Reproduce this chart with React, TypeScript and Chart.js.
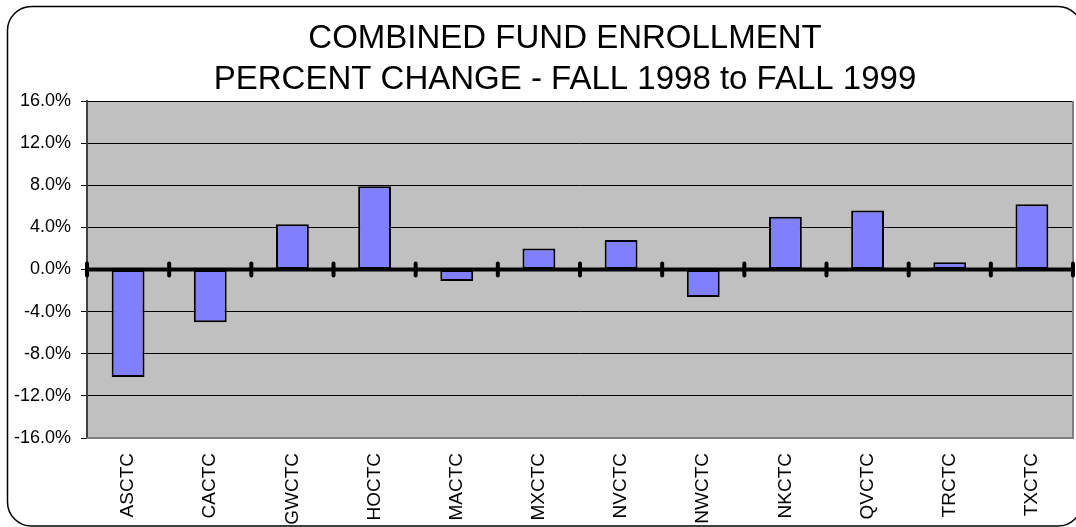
import React, { useEffect, useRef } from "react";
import { Chart, registerables } from "chart.js";

Chart.register(...registerables);

const categories = ["ASCTC", "CACTC", "GWCTC", "HOCTC", "MACTC", "MXCTC", "NVCTC", "NWCTC", "NKCTC", "QVCTC", "TRCTC", "TXCTC"];
const percentChange = [-10.2, -5.0, 4.3, 7.9, -1.1, 2.0, 2.8, -2.6, 5.0, 5.6, 0.7, 6.2];
const titleLines = ["COMBINED FUND ENROLLMENT", "PERCENT CHANGE - FALL 1998 to FALL 1999"];
const yMin = -16;
const yMax = 16;
const yStep = 4;

const FONT = '"Liberation Sans", Arial, sans-serif';

const decorPlugin = {
  id: "decor",
  beforeDraw(chart: any) {
    const { ctx, chartArea } = chart;
    ctx.save();
    ctx.fillStyle = "#ffffff";
    ctx.fillRect(0, 0, chart.width, chart.height);
    ctx.fillStyle = "#C0C0C0";
    ctx.fillRect(chartArea.left, chartArea.top, chartArea.right - chartArea.left, chartArea.bottom - chartArea.top);
    ctx.restore();
  },
  beforeDatasetsDraw(chart: any) {
    const { ctx, chartArea } = chart;
    ctx.save();
    ctx.strokeStyle = "#808080";
    ctx.lineWidth = 2;
    ctx.beginPath();
    ctx.moveTo(chartArea.right, chartArea.top);
    ctx.lineTo(chartArea.right, chartArea.bottom);
    ctx.lineTo(chartArea.left, chartArea.bottom);
    ctx.stroke();
    ctx.restore();
  },
  afterDatasetsDraw(chart: any) {
    const { ctx, chartArea, scales } = chart;
    const x = scales.x;
    const y = scales.y;
    const y0 = y.getPixelForValue(0);
    ctx.save();
    ctx.strokeStyle = "#000000";
    ctx.lineWidth = 4;
    ctx.beginPath();
    ctx.moveTo(chartArea.left, y0);
    ctx.lineTo(chartArea.right, y0);
    ctx.stroke();
    const n = categories.length;
    const bounds: number[] = [chartArea.left];
    for (let i = 1; i < n; i++) {
      bounds.push((x.getPixelForValue(i - 1) + x.getPixelForValue(i)) / 2);
    }
    bounds.push(chartArea.right);
    ctx.lineWidth = 4;
    ctx.lineCap = "round";
    for (const bx of bounds) {
      ctx.beginPath();
      ctx.moveTo(bx, y0 - 6);
      ctx.lineTo(bx, y0 + 6);
      ctx.stroke();
    }
    ctx.restore();
  },
  afterDraw(chart: any) {
    const { ctx } = chart;
    ctx.save();
    ctx.fillStyle = "#000000";
    ctx.font = `33px ${FONT}`;
    ctx.textAlign = "center";
    ctx.textBaseline = "alphabetic";
    ctx.fillText(titleLines[0], 565, 48);
    ctx.fillText(titleLines[1], 565, 89);
    // outer rounded border
    ctx.strokeStyle = "#000000";
    ctx.lineWidth = 1.5;
    const l = 7.5, t = 6.5, r = 1082, b = 526, rad = 24;
    ctx.beginPath();
    ctx.moveTo(l + rad, t);
    ctx.lineTo(r - rad, t);
    ctx.arcTo(r, t, r, t + rad, rad);
    ctx.lineTo(r, b - rad);
    ctx.arcTo(r, b, r - rad, b, rad);
    ctx.lineTo(l + rad, b);
    ctx.arcTo(l, b, l, b - rad, rad);
    ctx.lineTo(l, t + rad);
    ctx.arcTo(l, t, l + rad, t, rad);
    ctx.stroke();
    ctx.restore();
  },
};

export default function App() {
  const canvasRef = useRef<HTMLCanvasElement | null>(null);

  useEffect(() => {
    if (!canvasRef.current) return;
    const chart = new Chart(canvasRef.current, {
      type: "bar",
      data: {
        labels: categories,
        datasets: [
          {
            data: percentChange,
            backgroundColor: "#8080FF",
            borderColor: "#000000",
            borderWidth: 2,
            borderSkipped: false,
            barPercentage: 0.4,
            categoryPercentage: 1.0,
          },
        ],
      },
      options: {
        responsive: false,
        animation: false,
        devicePixelRatio: 1,
        layout: { padding: { top: 101, right: 3, left: 0, bottom: 0 } },
        plugins: {
          legend: { display: false },
          title: { display: false },
          tooltip: { enabled: false },
        },
        scales: {
          x: {
            grid: { display: false, drawTicks: false },
            border: { display: false },
            ticks: {
              color: "#000000",
              font: { family: FONT, size: 19 },
              minRotation: 90,
              maxRotation: 90,
              autoSkip: false,
              padding: 15,
            },
            afterFit(scale: any) {
              scale.height = 89;
            },
          },
          y: {
            min: yMin,
            max: yMax,
            grid: { color: "#000000", lineWidth: 1, tickLength: 6 },
            border: { display: true, color: "#404040", width: 2 },
            ticks: {
              stepSize: yStep,
              color: "#000000",
              font: { family: FONT, size: 18 },
              padding: 10,
              callback: (v: any) => Number(v).toFixed(1) + "%",
            },
            afterFit(scale: any) {
              scale.width = 87;
            },
          },
        },
      },
      plugins: [decorPlugin],
    });
    return () => chart.destroy();
  }, []);

  return (
    <div style={{ position: "absolute", left: 0, top: 0, width: 1076, height: 527 }}>
      <canvas ref={canvasRef} width={1076} height={527} style={{ display: "block" }} />
    </div>
  );
}
